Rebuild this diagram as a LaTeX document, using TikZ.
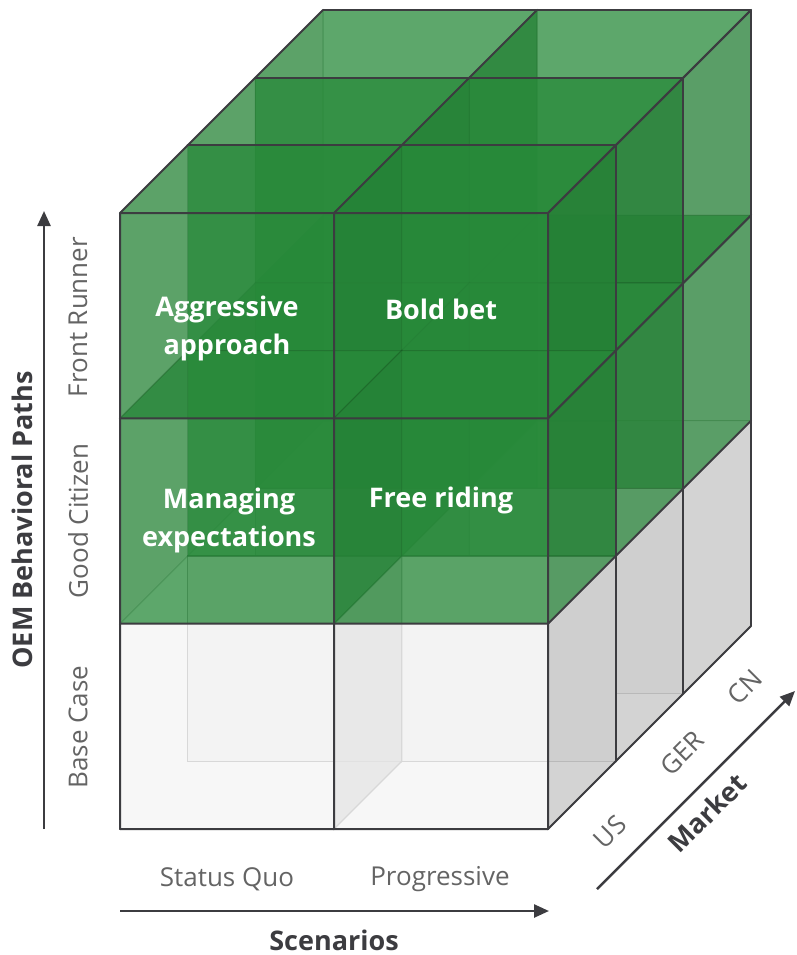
\documentclass[tikz,border=0pt]{standalone}
\usepackage{fontspec}
\setmainfont{Open Sans}
\usetikzlibrary{arrows.meta}

\definecolor{cubegreen}{RGB}{40,138,58}
\definecolor{edgegray}{RGB}{60,60,64}
\definecolor{labelgray}{RGB}{100,100,100}
\definecolor{frontgray}{RGB}{243,243,243}
\definecolor{sidegray}{RGB}{196,196,196}

\tikzset{
  greenface/.style={fill=cubegreen, fill opacity=0.5, draw=cubegreen!50!black, draw opacity=0.12, line width=1.2pt},
  greenside/.style={greenface, fill=cubegreen!88!black},
  grayface/.style={fill=frontgray, fill opacity=0.7, draw=black!40, line width=1.2pt},
  grayside/.style={grayface, fill=sidegray, fill opacity=0.75},
  gridline/.style={draw=edgegray, line width=2pt, line cap=round, line join=round},
  axis/.style={draw=edgegray, line width=2.5pt, -{Triangle[length=15pt,width=13pt]}},
  celltext/.style={text=white, font=\fontsize{27}{38}\selectfont\bfseries, align=center},
  ticktext/.style={text=labelgray, inner sep=1pt, font=\fontsize{26}{30}\selectfont},
  axistext/.style={text=edgegray, inner sep=1pt, font=\fontsize{27}{30}\selectfont\bfseries}
}

% cell width, cell height, one step back in depth
\newcommand{\cw}{214}
\newcommand{\ch}{205.33}
\newcommand{\dd}{67.67}

% green cube: column #1, row #2 (0 = top), depth #3
\newcommand{\drawcube}[3]{%
  \begin{scope}[shift={({120+\cw*#1+\dd*#3},{213+\ch*#2-\dd*#3})}]
    \path[greenface] (\dd,-\dd) rectangle ++(\cw,\ch);
    \path[greenside] (0,0) -- (\dd,-\dd) -- ++(0,\ch) -- (0,\ch) -- cycle;
    \path[greenface] (0,\ch) -- (\cw,\ch) -- ++(\dd,-\dd) -- ++(-\cw,0) -- cycle;
    \path[greenface] (0,0) -- (\cw,0) -- ++(\dd,-\dd) -- ++(-\cw,0) -- cycle;
    \path[greenside] (\cw,0) -- ++(\dd,-\dd) -- ++(0,\ch) -- (\cw,\ch) -- cycle;
    \path[greenface] (0,0) rectangle (\cw,\ch);
  \end{scope}}

% gray base cube: column #1, depth #2, front opacity #3
\newcommand{\drawbase}[3]{%
  \begin{scope}[shift={({120+\cw*#1+\dd*#2},{213+2*\ch-\dd*#2})}]
    \path[grayside] (\cw,0) -- ++(\dd,-\dd) -- ++(0,\ch) -- (\cw,\ch) -- cycle;
    \path[grayface, fill opacity=#3] (0,0) rectangle (\cw,\ch);
  \end{scope}}

\begin{document}
\begin{tikzpicture}[x=1pt,y=-1pt]
  \useasboundingbox (0,0) rectangle (796,955);

  % base case row, back to front
  \foreach \k/\op in {2/1,1/1,0/0.7}
    \foreach \i in {0,1}
      \drawbase{\i}{\k}{\op};

  % the two green rows
  \foreach \k in {2,1,0}
    \foreach \j in {0,1}
      \foreach \i in {0,1}
        \drawcube{\i}{\j}{\k};

  % outer grid: front, top and right side
  \foreach \i in {0,1,2}
    \draw[gridline] ({120+\cw*\i},213) -- ++(0,{3*\ch}) ({120+\cw*\i},213) -- ++({3*\dd},{-3*\dd});
  \foreach \j in {0,1,2,3}
    \draw[gridline] (120,{213+\ch*\j}) -- (548,{213+\ch*\j}) -- ++({3*\dd},{-3*\dd});
  \foreach \k in {1,2,3}
    \draw[gridline] ({120+\dd*\k},{213-\dd*\k}) -- ++(428,0) -- ++(0,{3*\ch});

  % cell labels
  \node[celltext] (aggressive) at (227,328) {Aggressive\\approach};
  \node[celltext] (boldbet) at (441,309) {Bold bet};
  \node[celltext] (managing) at (229,520) {Managing\\expectations};
  \node[celltext] (freeriding) at (441,500) {Free riding};

  % vertical axis
  \coordinate (ystart) at (44,829);
  \coordinate (yend) at (44,211);
  \draw[axis] (ystart) -- (yend);
  \node[ticktext, rotate=90] (frontrunner) at (78,317) {Front Runner};
  \node[ticktext, rotate=90] (goodcitizen) at (78,521) {Good Citizen};
  \node[ticktext, rotate=90] (basecase) at (78,727) {Base Case};
  \node[axistext, rotate=90] (paths) at (22,520) {OEM Behavioral Paths};

  % horizontal axis
  \coordinate (xstart) at (120,911);
  \coordinate (xend) at (549,911);
  \draw[axis] (xstart) -- (xend);
  \node[ticktext] (statusquo) at (227,879) {Status Quo};
  \node[ticktext] (progressive) at (440,879) {Progressive};
  \node[axistext] (scenarios) at (334,940) {Scenarios};

  % depth axis
  \coordinate (dstart) at (597,889);
  \coordinate (dend) at (795,691);
  \draw[axis] (dstart) -- (dend);
  \node[ticktext, rotate=45] (us) at (610,832) {US};
  \node[ticktext, rotate=45] (ger) at (682,753) {GER};
  \node[ticktext, rotate=45] (cn) at (745,687) {CN};
  \node[axistext, rotate=45] (market) at (707,813) {Market};
\end{tikzpicture}
\end{document}
